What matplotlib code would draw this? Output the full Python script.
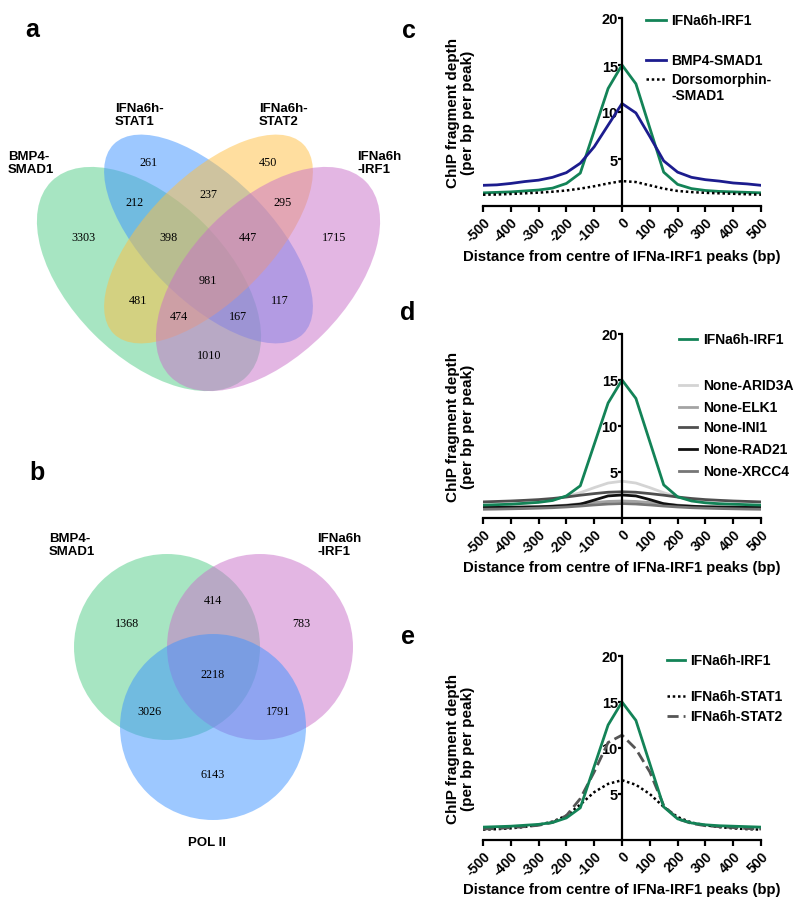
import numpy as np
import matplotlib.pyplot as plt
from matplotlib.patches import Ellipse, Circle
from matplotlib.lines import Line2D

plt.rcParams['font.family'] = ['Liberation Sans', 'DejaVu Sans']
plt.rcParams['axes.unicode_minus'] = False

# ---- panel a: four-set venn counts ----
quad_names = ['BMP4-\nSMAD1', 'IFNa6h-\nSTAT1', 'IFNa6h-\nSTAT2', 'IFNa6h\n-IRF1']
quad_counts = [261, 450, 212, 237, 295, 3303, 398, 447, 1715, 981, 481, 117, 474, 167, 1010]

# ---- panel b: three-set venn counts ----
tri_names = ['BMP4-\nSMAD1', 'IFNa6h\n-IRF1', 'POL II']
tri_counts = [1368, 414, 783, 2218, 3026, 1791, 6143]

# ---- panels c-e: ChIP fragment depth profiles ----
dist = [-500, -450, -400, -350, -300, -250, -200, -150, -100, -50, 0,
        50, 100, 150, 200, 250, 300, 350, 400, 450, 500]
irf1 = [1.4, 1.45, 1.5, 1.6, 1.7, 1.9, 2.4, 3.5, 8.0, 12.5, 15.0,
        13.0, 8.3, 3.6, 2.3, 1.85, 1.65, 1.55, 1.5, 1.45, 1.4]
bmp4_smad1 = [2.2, 2.25, 2.4, 2.6, 2.75, 3.05, 3.55, 4.55, 6.3, 8.6, 10.9,
              9.9, 7.4, 4.8, 3.6, 3.05, 2.8, 2.65, 2.45, 2.35, 2.2]
dorso_smad1 = [1.2, 1.22, 1.28, 1.35, 1.42, 1.52, 1.65, 1.85, 2.1, 2.4, 2.65,
               2.55, 2.2, 1.85, 1.6, 1.48, 1.4, 1.35, 1.3, 1.25, 1.2]
arid3a = [1.3, 1.35, 1.45, 1.6, 1.75, 2.0, 2.35, 2.75, 3.3, 3.8, 4.0,
          3.8, 3.3, 2.75, 2.3, 1.95, 1.7, 1.55, 1.45, 1.35, 1.3]
elk1 = [1.05, 1.07, 1.1, 1.15, 1.2, 1.3, 1.4, 1.55, 1.68, 1.8, 1.85,
        1.8, 1.68, 1.55, 1.4, 1.3, 1.2, 1.15, 1.1, 1.07, 1.05]
ini1 = [1.75, 1.8, 1.85, 1.92, 2.0, 2.12, 2.28, 2.48, 2.65, 2.8, 2.85,
        2.8, 2.65, 2.48, 2.28, 2.12, 2.0, 1.92, 1.85, 1.8, 1.75]
rad21 = [1.15, 1.15, 1.17, 1.2, 1.22, 1.27, 1.35, 1.5, 1.95, 2.4, 2.5,
         2.4, 2.0, 1.55, 1.35, 1.27, 1.22, 1.2, 1.17, 1.15, 1.15]
xrcc4 = [0.95, 0.97, 1.0, 1.03, 1.07, 1.12, 1.2, 1.3, 1.42, 1.52, 1.57,
         1.52, 1.42, 1.3, 1.2, 1.12, 1.07, 1.03, 1.0, 0.97, 0.95]
stat1 = [1.13, 1.18, 1.27, 1.42, 1.65, 2.0, 2.65, 3.85, 5.2, 6.1, 6.5,
         6.0, 5.0, 3.6, 2.5, 1.9, 1.6, 1.4, 1.27, 1.18, 1.13]
stat2 = [1.2, 1.25, 1.35, 1.45, 1.6, 1.9, 2.65, 4.5, 7.4, 10.6, 11.4,
         9.9, 7.4, 3.75, 2.3, 1.8, 1.55, 1.45, 1.35, 1.25, 1.2]

W, H = 800, 912
fig = plt.figure(figsize=(8, 9.12), dpi=100)


def fx(x):
    return x / W


def fy(y):
    return 1 - y / H


# pixel-space canvas for the venn panels and panel letters
cv = fig.add_axes([0, 0, 1, 1])
cv.set_xlim(0, W)
cv.set_ylim(H, 0)
cv.axis('off')

green = '#51cd87'
blue = '#3d93ff'
yellow = '#ffbf41'
pink = '#c96fc9'

# four ellipses (centre, semi-axes, angle)
ell = [((149, 280), 138, 78, 45, green),
       ((208.5, 240), 134, 62, 45, blue),
       ((208.5, 240), 134, 62, -45, yellow),
       ((268, 280), 138, 78, -45, pink)]
for (c, a, b, ang, col) in ell:
    cv.add_patch(Ellipse(c, 2 * a, 2 * b, angle=ang, facecolor=col, alpha=0.5, edgecolor='none'))

quad_pos = [(149, 163), (268, 163), (134, 203), (208, 195), (283, 203),
            (83, 238), (169, 238), (248, 238), (334, 238), (208, 281),
            (138, 301), (280, 301), (179, 317), (238, 317), (209, 356)]
for (x, y), n in zip(quad_pos, quad_counts):
    cv.text(x, y, str(n), ha='center', va='center', fontsize=8.7, family='Liberation Serif')

for (x, y), name in zip([(8, 158), (115, 110), (259, 110), (357, 158)], quad_names):
    cv.text(x, y - 7, name, ha='left', va='top', fontsize=9.5, fontweight='bold', linespacing=1.1)

# three circles
circ = [((167, 648), green), ((260, 648), pink), ((213, 728), blue)]
for c, col in circ:
    cv.add_patch(Circle(c, 93, facecolor=col, alpha=0.5, edgecolor='none'))

tri_pos = [(127, 624), (213, 601), (301, 624), (213, 675), (149, 712), (278, 712), (213, 775)]
for (x, y), n in zip(tri_pos, tri_counts):
    cv.text(x, y, str(n), ha='center', va='center', fontsize=8.7, family='Liberation Serif')

cv.text(49, 533, tri_names[0], ha='left', va='top', fontsize=9.5, fontweight='bold', linespacing=1.1)
cv.text(317, 533, tri_names[1], ha='left', va='top', fontsize=9.5, fontweight='bold', linespacing=1.1)
cv.text(207, 843, tri_names[2], ha='center', va='center', fontsize=9.5, fontweight='bold')

for lab, (x, y) in zip('abcde', [(32, 30), (37, 473), (409, 31), (408, 313), (408, 637)]):
    cv.text(x, y, lab, ha='center', va='center', fontsize=18, fontweight='bold')

DOT = (0, (1, 1.1))
DASH = (0, (4, 1.8))


def profile_axes(top, bottom):
    ax = fig.add_axes([fx(483), fy(bottom), (761 - 483) / W, (bottom - top) / H])
    ax.set_facecolor('none')
    ax.set_xlim(-500, 500)
    ax.set_ylim(0, 20)
    for s in ['top', 'right']:
        ax.spines[s].set_visible(False)
    ax.spines['left'].set_position(('data', 0))
    ax.spines['left'].set_linewidth(1.6)
    ax.spines['bottom'].set_linewidth(1.6)
    ax.set_xticks(range(-500, 501, 100))
    ax.set_xticklabels([str(v) for v in range(-500, 501, 100)], rotation=45,
                       ha='right', rotation_mode='anchor', fontweight='bold', fontsize=10)
    ax.set_yticks([5, 10, 15, 20])
    ax.set_yticklabels(['5', '10', '15', '20'], fontweight='bold', fontsize=10.5)
    ax.tick_params(axis='x', direction='out', length=4, width=1.6, pad=2)
    ax.tick_params(axis='y', direction='out', length=3, width=1.6, pad=0)
    ax.set_ylabel('ChIP fragment depth\n(per bp per peak)', fontweight='bold', fontsize=11,
                  linespacing=1.05)
    ax.yaxis.set_label_coords(-0.03, 0.5)
    ax.set_xlabel('Distance from centre of IFNa-IRF1 peaks (bp)', fontweight='bold', fontsize=10.7)
    ax.xaxis.set_label_coords(0.5, -0.23)
    return ax


def legend_entry(x0, x1, xt, y, label, **kw):
    fig.add_artist(Line2D([fx(x0), fx(x1)], [fy(y), fy(y)], transform=fig.transFigure, **kw))
    fig.text(fx(xt), fy(y - 7), label, ha='left', va='top', fontsize=10, fontweight='bold',
             linespacing=1.2)


irf1_col = '#138357'

# panel c
ax = profile_axes(19, 207)
ax.plot(dist, irf1, color=irf1_col, lw=2)
ax.plot(dist, bmp4_smad1, color='#1c1c8e', lw=2)
ax.plot(dist, dorso_smad1, color='black', lw=1.8, ls=DOT)
legend_entry(646, 666, 671, 21, 'IFNa6h-IRF1', color=irf1_col, lw=2)
legend_entry(646, 666, 671, 61, 'BMP4-SMAD1', color='#1c1c8e', lw=2)
legend_entry(646, 666, 671, 80, 'Dorsomorphin-\n-SMAD1', color='black', lw=1.8, ls=DOT)

# panel d
ax = profile_axes(335, 519)
grays = [('None-ARID3A', arid3a, '#d4d4d4'), ('None-ELK1', elk1, '#a3a3a3'),
         ('None-INI1', ini1, '#4f4f4f'), ('None-RAD21', rad21, '#111111'),
         ('None-XRCC4', xrcc4, '#767676')]
for name, vals, col in grays:
    ax.plot(dist, vals, color=col, lw=2)
ax.plot(dist, irf1, color=irf1_col, lw=2)
legend_entry(679, 697, 703, 340, 'IFNa6h-IRF1', color=irf1_col, lw=2)
for (name, vals, col), y in zip(grays, [386, 408, 428, 450, 472]):
    legend_entry(679, 697, 703, y, name, color=col, lw=2)

# panel e
ax = profile_axes(657, 841)
ax.plot(dist, stat1, color='black', lw=1.8, ls=DOT)
ax.plot(dist, stat2, color='#555555', lw=2, ls=DASH)
ax.plot(dist, irf1, color=irf1_col, lw=2)
legend_entry(667, 685, 690, 661, 'IFNa6h-IRF1', color=irf1_col, lw=2)
legend_entry(667, 685, 690, 697, 'IFNa6h-STAT1', color='black', lw=1.8, ls=DOT)
legend_entry(667, 685, 690, 717, 'IFNa6h-STAT2', color='#555555', lw=2, ls=DASH)

fig.savefig('out.png', dpi=100)
